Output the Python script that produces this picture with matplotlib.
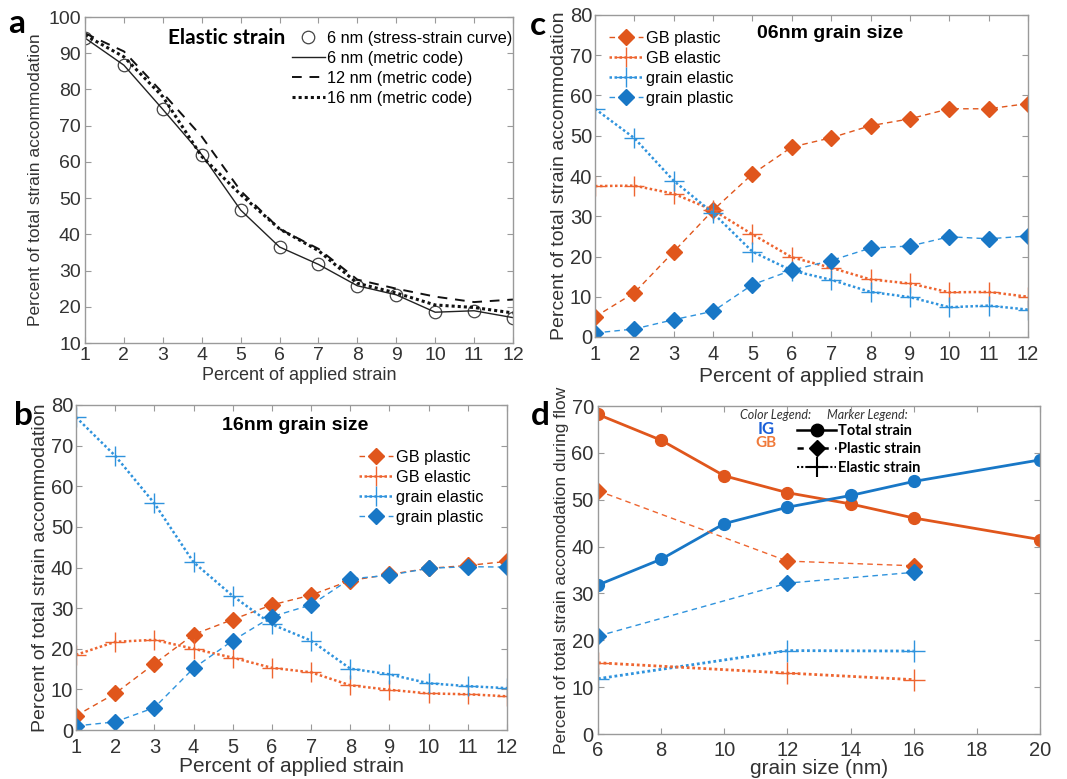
import matplotlib
matplotlib.use("Agg")
import matplotlib.pyplot as plt
from matplotlib.lines import Line2D

# ---------------- data ----------------
strain = [1, 2, 3, 4, 5, 6, 7, 8, 9, 10, 11, 12]

# panel a (elastic strain)
a_6nm_curve = [94.2, 86.7, 74.5, 62.0, 46.7, 36.5, 31.7, 25.8, 23.3, 18.5, 18.9, 17.0]
a_6nm_metric = [94.2, 86.7, 74.5, 62.0, 46.7, 36.5, 31.7, 25.8, 23.3, 18.5, 18.9, 17.0]
a_12nm_metric = [95.5, 90.5, 79.0, 67.0, 52.0, 41.5, 36.0, 27.5, 25.0, 22.8, 21.3, 22.0]
a_16nm_metric = [95.0, 89.0, 78.0, 61.5, 51.0, 41.5, 35.5, 26.5, 23.8, 20.5, 19.8, 18.3]

# panel c (06 nm)
c_gb_plastic = [5.0, 11.0, 21.2, 31.5, 40.5, 47.2, 49.5, 52.5, 54.2, 56.7, 56.7, 58.0]
c_gb_elastic = [37.5, 37.6, 35.6, 31.5, 25.5, 19.8, 17.2, 14.3, 13.3, 11.1, 11.2, 10.0]
c_grain_elastic = [56.7, 49.4, 38.8, 30.8, 21.2, 16.5, 14.2, 11.2, 9.9, 7.4, 7.8, 6.8]
c_grain_plastic = [1.0, 2.0, 4.3, 6.4, 13.0, 16.6, 19.0, 22.1, 22.6, 24.9, 24.4, 25.1]

# panel b (16 nm)
b_gb_plastic = [3.5, 9.0, 16.3, 23.5, 27.2, 30.8, 33.2, 36.8, 38.3, 39.8, 40.5, 41.5]
b_gb_elastic = [18.5, 21.7, 22.2, 20.0, 17.8, 15.3, 14.2, 11.0, 9.9, 9.0, 8.8, 8.3]
b_grain_elastic = [77.0, 67.5, 55.8, 41.3, 33.0, 26.0, 22.0, 15.1, 13.7, 11.5, 10.8, 10.3]
b_grain_plastic = [1.0, 2.0, 5.5, 15.2, 22.0, 27.9, 30.8, 37.2, 38.1, 39.8, 40.2, 40.1]

# panel d (vs grain size)
d_size_total = [6, 8, 10, 12, 14, 16, 20]
d_gb_total = [68.2, 62.7, 55.1, 51.5, 49.1, 46.1, 41.5]
d_ig_total = [31.8, 37.3, 44.9, 48.4, 50.9, 53.9, 58.5]
d_size_part = [6, 12, 16]
d_gb_plastic = [51.9, 36.9, 35.9]
d_ig_plastic = [20.9, 32.2, 34.5]
d_ig_elastic = [11.8, 17.8, 17.7]
d_gb_elastic = [15.2, 13.0, 11.6]

ORANGE = "#E0561C"
ORANGE_L = "#EE6530"
BLUE = "#1877C6"
BLUE_L = "#2F93DD"
SPINE = "#9a9a9a"
TXT = "#333333"

plt.rcParams["font.family"] = ["Liberation Sans", "DejaVu Sans"]
lf = ["Lato", "DejaVu Sans"]

W, H = 1067, 779
fig = plt.figure(figsize=(W / 100, H / 100), dpi=100)


def ax_px(x0, y0, x1, y1):
    return fig.add_axes([x0 / W, 1 - y1 / H, (x1 - x0) / W, (y1 - y0) / H])


def fx(ax, px):
    b = ax.get_position()
    return (px / W - b.x0) / b.width


def fy(ax, py):
    b = ax.get_position()
    return ((1 - py / H) - b.y0) / b.height


def style(ax, fs, xpad=3, ypad=3):
    for s in ax.spines.values():
        s.set_color(SPINE)
        s.set_linewidth(1.0)
    ax.tick_params(direction="in", top=True, right=True, length=4, width=0.8,
                   color=SPINE, labelcolor=TXT, labelsize=fs)
    ax.tick_params(axis="x", pad=xpad)
    ax.tick_params(axis="y", pad=ypad)


# ---------------- panel a ----------------
ax = ax_px(85, 17, 513, 343)
ax.plot(strain, a_6nm_curve, ls="none", marker="o", ms=9, mfc="none", mec="#444444",
        mew=0.9, label="6 nm (stress-strain curve)")
ax.plot(strain, a_6nm_metric, color="#222222", lw=1.0, label="6 nm (metric code)")
ax.plot(strain, a_12nm_metric, color="#111111", lw=1.4, ls=(0, (5, 4)), label="12 nm (metric code)")
ax.plot(strain, a_16nm_metric, color="#111111", lw=2.2, ls=(0, (1, 1)), label="16 nm (metric code)")
ax.set_xlim(1, 12)
ax.set_ylim(10, 100)
ax.set_xticks(strain)
ax.set_yticks(range(10, 101, 10))
style(ax, 14)
ax.set_xlabel("Percent of applied strain", fontsize=13, color=TXT, labelpad=2)
ax.set_ylabel("Percent of total strain accommodation", fontsize=12.5, color=TXT, labelpad=4)
ax.legend(loc="upper left", bbox_to_anchor=(fx(ax, 292), fy(ax, 31)), frameon=False,
          fontsize=11.7, handlelength=2.0, handletextpad=0.15, labelspacing=0.3,
          borderpad=0.0, borderaxespad=0.0)
ax.text(0.195, 0.935, "Elastic strain", transform=ax.transAxes, fontsize=15,
        fontweight="bold", family=lf, va="center", ha="left")

# ---------------- panel c ----------------
ax = ax_px(595, 15, 1028, 337)
ax.plot(strain, c_gb_plastic, color=ORANGE, ls=(0, (4, 3)), lw=1.0, marker="D", ms=8,
        mfc=ORANGE, mec=ORANGE, label="GB plastic")
ax.plot(strain, c_gb_elastic, color=ORANGE_L, ls=(0, (1, 1)), lw=1.8, marker="+", ms=14,
        mew=1.0, label="GB elastic")
ax.plot(strain, c_grain_elastic, color=BLUE_L, ls=(0, (1, 1)), lw=1.8, marker="+", ms=14,
        mew=1.0, label="grain elastic")
ax.plot(strain, c_grain_plastic, color=BLUE_L, ls=(0, (4, 3)), lw=1.0, marker="D", ms=8,
        mfc=BLUE, mec=BLUE, label="grain plastic")
ax.set_xlim(1, 12)
ax.set_ylim(0, 80)
ax.set_xticks(strain)
ax.set_yticks(range(0, 81, 10))
style(ax, 14.5, xpad=6, ypad=2)
ax.set_xlabel("Percent of applied strain", fontsize=15, color=TXT, labelpad=2)
ax.set_ylabel("Percent of total strain accommodation", fontsize=14, color=TXT, labelpad=1)
ax.legend(loc="upper left", bbox_to_anchor=(fx(ax, 609), fy(ax, 31)), frameon=False,
          fontsize=11.7, handlelength=2.1, handletextpad=0.2, labelspacing=0.3,
          borderpad=0.0, borderaxespad=0.0)
ax.text(fx(ax, 757), fy(ax, 33), "06nm grain size", transform=ax.transAxes, fontsize=14,
        fontweight="bold", va="center", ha="left")

# ---------------- panel b ----------------
ax = ax_px(76, 405, 507, 730)
ax.plot(strain, b_gb_plastic, color=ORANGE, ls=(0, (4, 3)), lw=1.0, marker="D", ms=8,
        mfc=ORANGE, mec=ORANGE, label="GB plastic")
ax.plot(strain, b_gb_elastic, color=ORANGE_L, ls=(0, (1, 1)), lw=1.8, marker="+", ms=14,
        mew=1.0, label="GB elastic")
ax.plot(strain, b_grain_elastic, color=BLUE_L, ls=(0, (1, 1)), lw=1.8, marker="+", ms=14,
        mew=1.0, label="grain elastic")
ax.plot(strain, b_grain_plastic, color=BLUE_L, ls=(0, (4, 3)), lw=1.0, marker="D", ms=8,
        mfc=BLUE, mec=BLUE, label="grain plastic")
ax.set_xlim(1, 12)
ax.set_ylim(0, 80)
ax.set_xticks(strain)
ax.set_yticks(range(0, 81, 10))
style(ax, 14.5, xpad=6, ypad=2)
ax.set_xlabel("Percent of applied strain", fontsize=15, color=TXT, labelpad=0)
ax.set_ylabel("Percent of total strain accommodation", fontsize=14, color=TXT, labelpad=1)
ax.legend(loc="upper left", bbox_to_anchor=(fx(ax, 359), fy(ax, 450)), frameon=False,
          fontsize=11.7, handlelength=2.1, handletextpad=0.2, labelspacing=0.3,
          borderpad=0.0, borderaxespad=0.0)
ax.text(fx(ax, 222), fy(ax, 425), "16nm grain size", transform=ax.transAxes, fontsize=14,
        fontweight="bold", va="center", ha="left")

# ---------------- panel d ----------------
ax = ax_px(598, 406, 1040, 734)
ax.plot(d_size_total, d_gb_total, color=ORANGE, lw=2.0, marker="o", ms=8.5)
ax.plot(d_size_total, d_ig_total, color=BLUE, lw=2.0, marker="o", ms=8.5)
ax.plot(d_size_part, d_gb_plastic, color=ORANGE_L, lw=1.0, ls=(0, (4, 3)), marker="D",
        ms=8, mfc=ORANGE, mec=ORANGE)
ax.plot(d_size_part, d_ig_plastic, color=BLUE_L, lw=1.0, ls=(0, (4, 3)), marker="D",
        ms=8, mfc=BLUE, mec=BLUE)
ax.plot(d_size_part, d_ig_elastic, color=BLUE_L, lw=2.0, ls=(0, (1, 1)), marker="+",
        ms=16, mew=1.0)
ax.plot(d_size_part, d_gb_elastic, color=ORANGE_L, lw=2.0, ls=(0, (1, 1)), marker="+",
        ms=16, mew=1.0)
ax.set_xlim(6, 20)
ax.set_ylim(0, 70)
ax.set_xticks(range(6, 21, 2))
ax.set_yticks(range(0, 71, 10))
style(ax, 14.5, xpad=5, ypad=3)
ax.set_xlabel("grain size (nm)", fontsize=15, color=TXT, labelpad=-1)
ax.set_ylabel("Percent of total strain accomodation during flow", fontsize=12.5,
              color=TXT, labelpad=2)
mk_handles = [
    Line2D([], [], color="black", lw=1.8, marker="o", ms=9),
    Line2D([], [], color="black", lw=1.8, ls=(0, (2.5, 2.5)), marker="D", ms=8),
    Line2D([], [], color="black", lw=1.5, ls=(0, (1, 1)), marker="+", ms=14, mew=1.5),
]
ax.legend(mk_handles, ["Total strain", "Plastic strain", "Elastic strain"],
          loc="upper left", bbox_to_anchor=(fx(ax, 797), fy(ax, 424)), frameon=False,
          prop={"family": lf, "weight": "bold", "size": 10.5},
          handlelength=2.7, handletextpad=0.1, labelspacing=0.3, borderpad=0.0,
          borderaxespad=0.0)
ax.text(fx(ax, 740), fy(ax, 415), "Color Legend:", transform=ax.transAxes, fontsize=9,
        style="italic", family=lf, color=TXT, va="center", ha="left")
ax.text(fx(ax, 827), fy(ax, 415), "Marker Legend:", transform=ax.transAxes, fontsize=9,
        style="italic", family=lf, color=TXT, va="center", ha="left")
ax.text(fx(ax, 766), fy(ax, 428.5), "IG", transform=ax.transAxes, fontsize=12,
        fontweight="bold", family=lf, color="#1a5fd8", va="center", ha="center")
ax.text(fx(ax, 766), fy(ax, 443), "GB", transform=ax.transAxes, fontsize=11,
        fontweight="bold", family=lf, color="#F07A3A", va="center", ha="center")

# ---------------- panel letters ----------------
for lab, x, y in [("a", 17, 33), ("c", 538, 35), ("b", 23, 425), ("d", 540, 425)]:
    fig.text(x / W, 1 - y / H, lab, fontsize=24, fontweight="bold", family=lf,
             ha="center", va="baseline")

fig.savefig("out.png", dpi=100, facecolor="white")
